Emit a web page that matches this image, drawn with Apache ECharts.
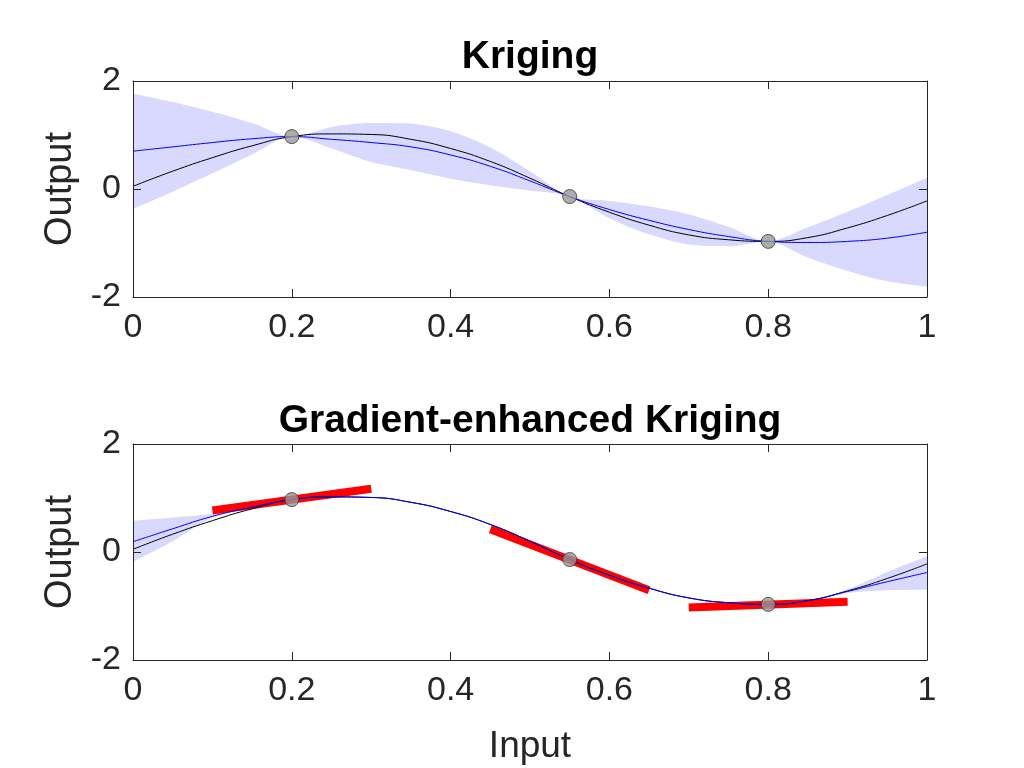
<!DOCTYPE html>
<html>
<head>
<meta charset="utf-8">
<title>Kriging vs GEK</title>
<script src="https://cdn.jsdelivr.net/npm/echarts@6/dist/echarts.min.js"></script>
<style>
  html, body { margin: 0; padding: 0; background: #fff; }
  #chart { width: 1024px; height: 768px; }
</style>
</head>
<body>
<div id="chart"></div>
<script>
// values
const xs = [0, 0.05, 0.1, 0.15, 0.2, 0.25, 0.3, 0.35, 0.4, 0.45, 0.5,
            0.55, 0.6, 0.65, 0.7, 0.75, 0.8, 0.85, 0.9, 0.95, 1];

// true function (black)
const trueY = [0.05, 0.33, 0.58, 0.80, 0.97, 1.02, 1.01, 0.92, 0.75, 0.51, 0.20,
               -0.14, -0.43, -0.67, -0.85, -0.94, -0.97, -0.90, -0.72, -0.49, -0.22];

// kriging prediction + confidence band
const krigMean = [0.70, 0.78, 0.86, 0.93, 0.97, 0.92, 0.86, 0.78, 0.63, 0.42, 0.15,
                  -0.14, -0.38, -0.58, -0.75, -0.88, -0.97, -0.99, -0.97, -0.91, -0.80];
const krigLow = [-0.37, -0.05, 0.29, 0.64, 0.97, 0.75, 0.50, 0.35, 0.19, 0.07, -0.03,
                 -0.14, -0.54, -0.84, -1.03, -1.06, -0.97, -1.27, -1.52, -1.71, -1.81];
const krigUp = [1.77, 1.61, 1.43, 1.22, 0.97, 1.15, 1.22, 1.21, 1.07, 0.77, 0.33,
                -0.14, -0.22, -0.32, -0.47, -0.70, -0.97, -0.71, -0.42, -0.11, 0.21];

// gradient-enhanced kriging prediction + band
const gekMean = [0.19, 0.43, 0.66, 0.83, 0.97, 1.02, 1.01, 0.92, 0.75, 0.51, 0.20,
                 -0.14, -0.43, -0.67, -0.85, -0.94, -0.97, -0.90, -0.73, -0.55, -0.38];
const gekLow = [-0.18, 0.20, 0.64, 0.81, 0.97, 1.02, 1.01, 0.92, 0.75, 0.51, 0.20,
                -0.14, -0.43, -0.67, -0.85, -0.94, -0.97, -0.90, -0.76, -0.71, -0.70];
const gekUp = [0.58, 0.64, 0.71, 0.85, 0.97, 1.02, 1.01, 0.92, 0.75, 0.51, 0.20,
               -0.14, -0.43, -0.67, -0.85, -0.94, -0.97, -0.90, -0.69, -0.37, -0.08];

// samples and gradient segments
const sampleX = [0.2, 0.55, 0.8];
const sampleY = [0.97, -0.14, -0.97];
const gradX = [[0.1, 0.3], [0.45, 0.65], [0.7, 0.9]];
const gradY = [[0.77, 1.17], [0.42, -0.71], [-1.03, -0.92]];

const font = 'Liberation Sans, Arial, Helvetica, sans-serif';
const axisCol = '#262626';
const bandCol = '#d9d9ff';

const zip = (a, b) => a.map((v, i) => [v, b[i]]);

function xAx(grid, pos, name) {
  return {
    type: 'value', gridIndex: grid, position: pos, z: 10,
    min: 0, max: 1, interval: 0.2,
    name: name || '', nameLocation: 'middle', nameGap: 68,
    nameTextStyle: { fontSize: 37, color: axisCol, fontFamily: font },
    axisLine: { show: true, onZero: false, lineStyle: { color: axisCol, width: 1 } },
    axisTick: { show: true, inside: true, length: 8, lineStyle: { color: axisCol } },
    axisLabel: { show: pos === 'bottom', fontSize: 34, color: axisCol, fontFamily: font, margin: 14 },
    splitLine: { show: false }
  };
}
function yAx(grid, pos, name) {
  return {
    type: 'value', gridIndex: grid, position: pos, z: 10,
    min: -2, max: 2, interval: 2,
    name: name || '', nameLocation: 'middle', nameGap: 47, nameRotate: 90,
    nameTextStyle: { fontSize: 38, color: axisCol, fontFamily: font },
    axisLine: { show: true, onZero: false, lineStyle: { color: axisCol, width: 1 } },
    axisTick: { show: true, inside: true, length: 8, lineStyle: { color: axisCol } },
    axisLabel: { show: pos === 'left', fontSize: 34, color: axisCol, fontFamily: font, margin: 12 },
    splitLine: { show: false }
  };
}

function panel(g, mean, low, up, withGrad) {
  const out = [];
  // band: fill under the upper edge, then blank out under the lower edge
  out.push({
    type: 'line', xAxisIndex: g * 2, yAxisIndex: g * 2, data: zip(xs, up),
    smooth: 0.3, symbol: 'none', silent: true,
    lineStyle: { width: 0, opacity: 0 }, areaStyle: { color: bandCol, opacity: 1, origin: 'start' }
  });
  out.push({
    type: 'line', xAxisIndex: g * 2, yAxisIndex: g * 2, data: zip(xs, low),
    smooth: 0.3, symbol: 'none', silent: true,
    lineStyle: { width: 0, opacity: 0 }, areaStyle: { color: '#ffffff', opacity: 1, origin: 'start' }
  });
  if (withGrad) {
    gradX.forEach((gx, k) => {
      out.push({
        type: 'line', xAxisIndex: g * 2, yAxisIndex: g * 2,
        data: zip(gx, gradY[k]), symbol: 'none',
        lineStyle: { color: '#ff0000', width: 8, cap: 'butt' }
      });
    });
  }
  out.push({
    type: 'line', xAxisIndex: g * 2, yAxisIndex: g * 2, data: zip(xs, trueY),
    smooth: true, symbol: 'none', lineStyle: { color: '#000000', width: 1 }
  });
  out.push({
    type: 'line', xAxisIndex: g * 2, yAxisIndex: g * 2, data: zip(xs, mean),
    smooth: true, symbol: 'none', lineStyle: { color: '#0000ff', width: 1 }
  });
  out.push({
    type: 'scatter', xAxisIndex: g * 2, yAxisIndex: g * 2, data: zip(sampleX, sampleY),
    symbol: 'circle', symbolSize: 14, z: 5,
    itemStyle: { color: '#999999', borderColor: '#333333', borderWidth: 1 }
  });
  return out;
}

const chart = echarts.init(document.getElementById('chart'), null, { renderer: 'canvas' });

const option = {
  backgroundColor: '#ffffff',
  animation: false,
  title: [
    { text: 'Kriging', left: 525, top: 33, textAlign: 'center',
      textStyle: { fontSize: 39, fontWeight: 'bold', color: '#000', fontFamily: font } },
    { text: 'Gradient-enhanced Kriging', left: 525, top: 397, textAlign: 'center',
      textStyle: { fontSize: 39, fontWeight: 'bold', color: '#000', fontFamily: font } }
  ],
  grid: [
    { left: 133, top: 81, width: 794, height: 216, containLabel: false, outerBoundsMode: 'none' },
    { left: 133, top: 444, width: 794, height: 216, containLabel: false, outerBoundsMode: 'none' }
  ],
  xAxis: [xAx(0, 'bottom'), xAx(0, 'top'), xAx(1, 'bottom', 'Input'), xAx(1, 'top')],
  yAxis: [yAx(0, 'left', 'Output'), yAx(0, 'right'), yAx(1, 'left', 'Output'), yAx(1, 'right')],
  series: panel(0, krigMean, krigLow, krigUp, false).concat(panel(1, gekMean, gekLow, gekUp, true))
};

chart.setOption(option);
</script>
</body>
</html>
